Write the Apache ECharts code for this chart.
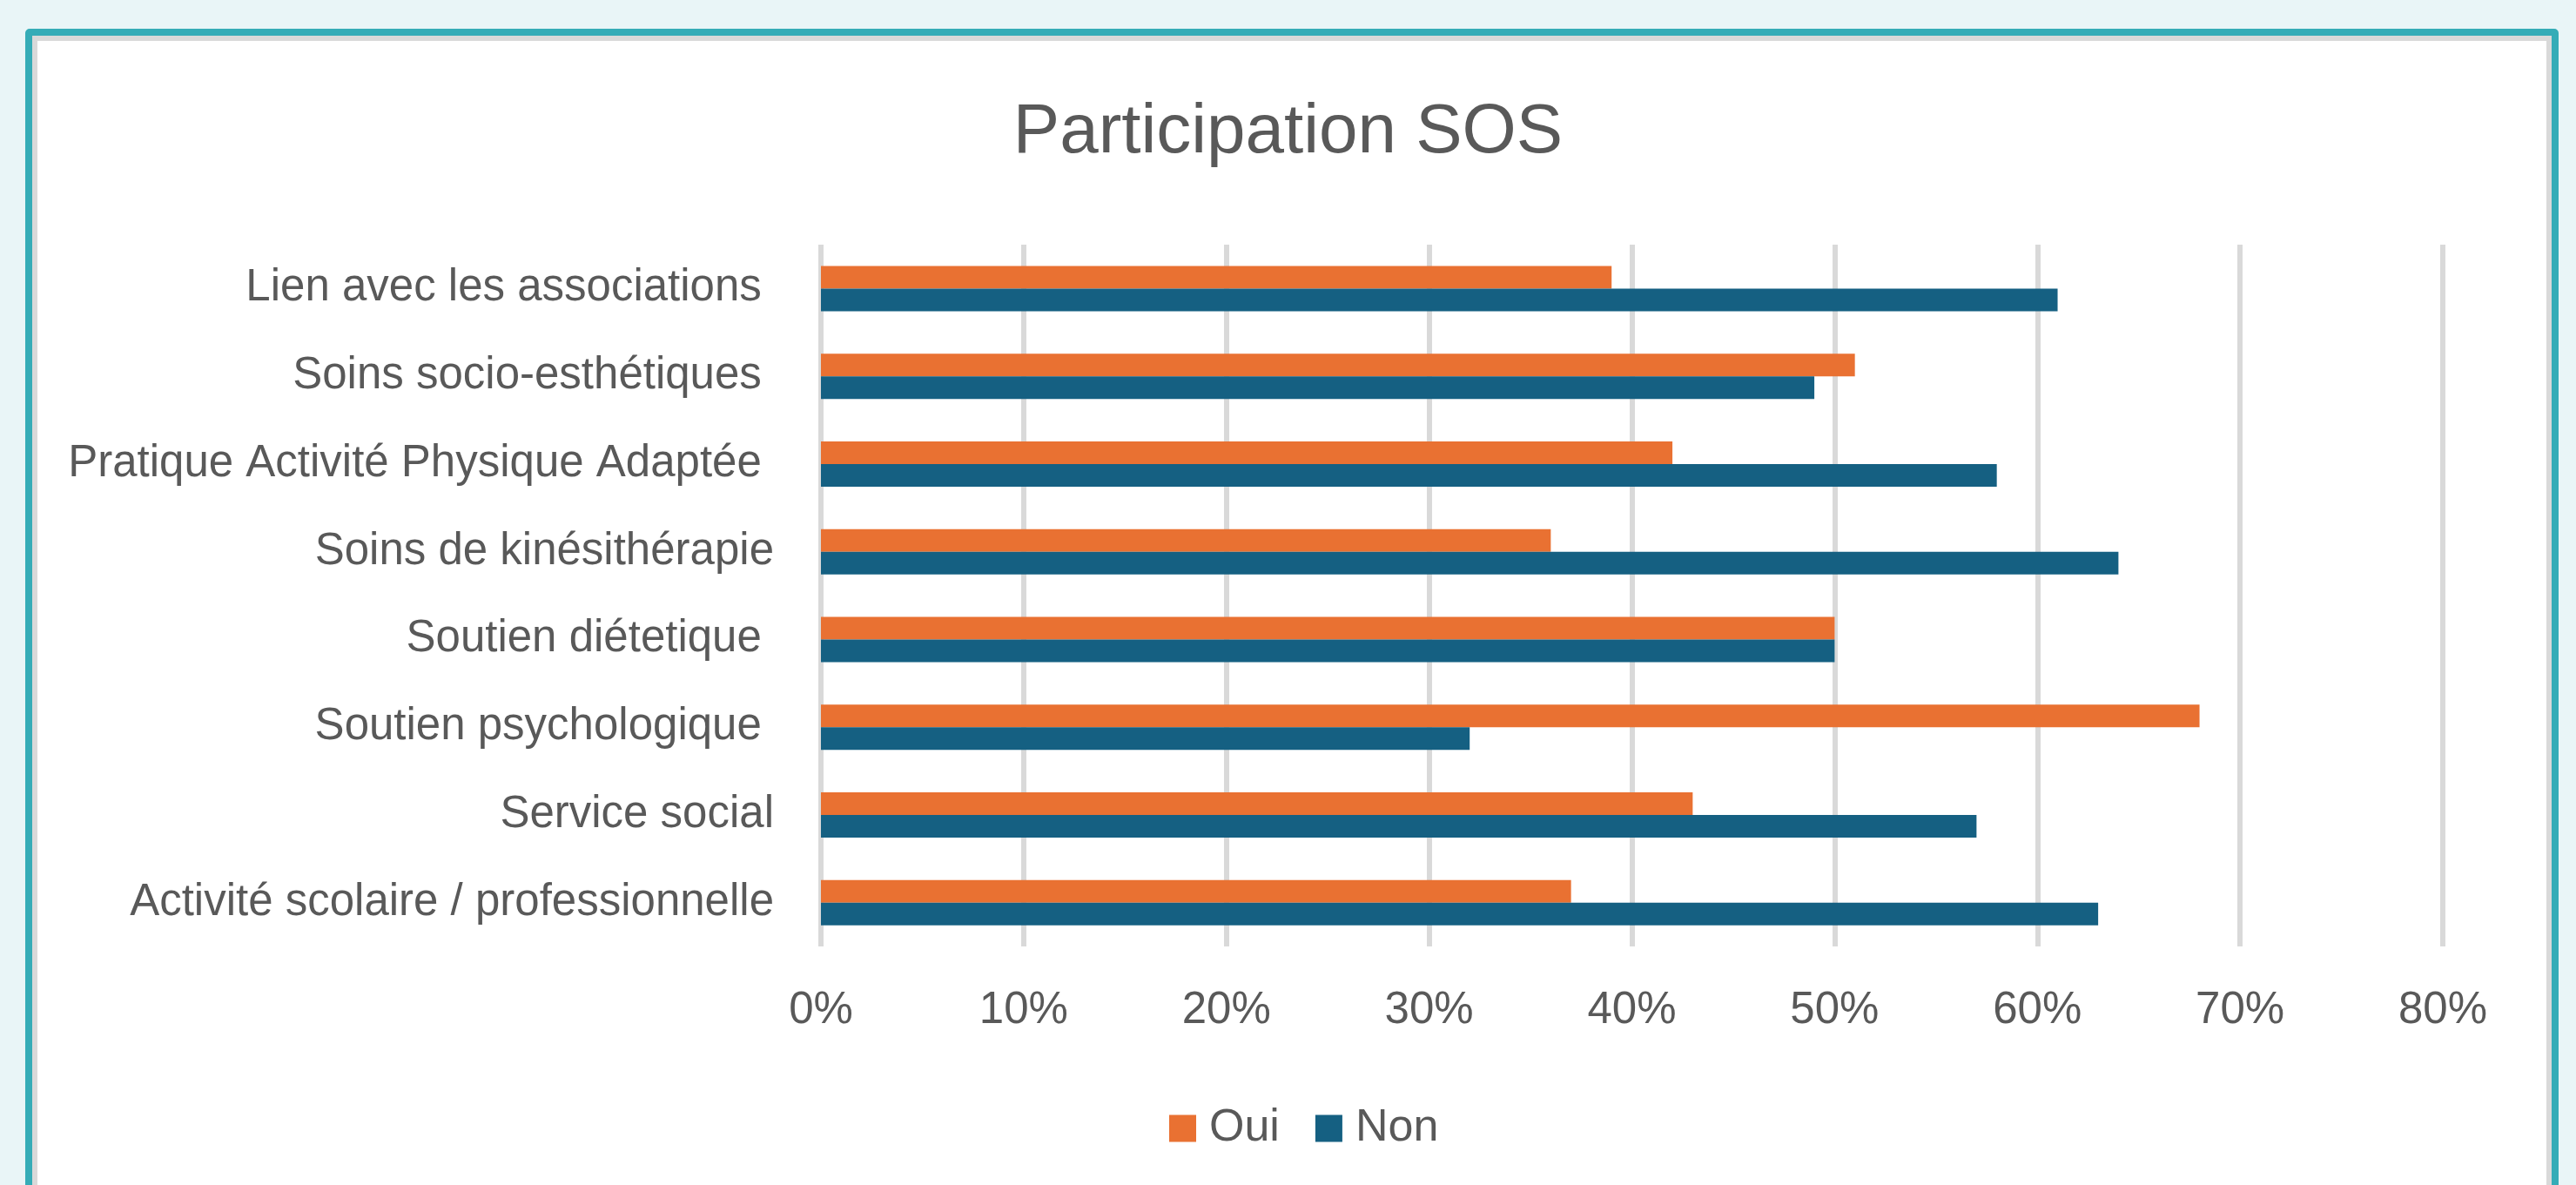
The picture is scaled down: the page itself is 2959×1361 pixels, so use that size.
<!DOCTYPE html>
<html>
<head>
<meta charset="utf-8">
<script src="https://cdn.jsdelivr.net/npm/echarts@6/dist/echarts.min.js"></script>
<style>
  html, body { margin: 0; padding: 0; width: 2959px; height: 1361px; overflow: hidden; background: #e9f5f7; }
  #frame {
    position: absolute; left: 29px; top: 33px; width: 2910px; height: 1400px;
    box-sizing: border-box; border: 8px solid #35acb7; border-radius: 5px; background: #d9d9d9;
  }
  #inner { position: absolute; left: 6px; top: 6px; right: 6px; bottom: 0; background: #ffffff; }
  #chart { position: absolute; left: 0; top: 0; width: 2959px; height: 1361px; }
</style>
</head>
<body>
<div id="frame"><div id="inner"></div></div>
<div id="chart"></div>
<script>
  const categories = [
    'Lien avec les associations ',
    'Soins socio-esthétiques ',
    'Pratique Activité Physique Adaptée ',
    'Soins de kinésithérapie',
    'Soutien diétetique ',
    'Soutien psychologique ',
    'Service social',
    'Activité scolaire / professionnelle',
  ];
  const ouiValues = [39, 51, 42, 36, 50, 68, 43, 37];
  const nonValues = [61, 49, 58, 64, 50, 32, 57, 63];
  const xTicks = [0, 10, 20, 30, 40, 50, 60, 70, 80];

  const textColor = '#595959';
  const fontFamily = '"Liberation Sans", Arial, sans-serif';

  const chart = echarts.init(document.getElementById('chart'), null, { renderer: 'canvas' });

  chart.setOption({
    animation: false,
    title: {
      text: 'Participation SOS',
      left: 'center',
      top: 108,
      textStyle: { color: textColor, fontFamily, fontSize: 80, fontWeight: 'normal' },
    },
    legend: {
      data: ['Oui', 'Non'],
      left: 1338,
      top: 1265,
      icon: 'rect',
      itemWidth: 31,
      itemHeight: 31,
      itemGap: 41,
      textStyle: { color: textColor, fontFamily, fontSize: 52, padding: [0, 0, 0, 10] },
    },
    grid: { left: 943, right: 153, top: 281, bottom: 274 },
    xAxis: {
      type: 'value',
      min: xTicks[0],
      max: xTicks[xTicks.length - 1],
      interval: 10,
      axisLine: { show: false },
      axisTick: { show: false },
      axisLabel: {
        margin: 48,
        color: textColor,
        fontFamily,
        fontSize: 51,
        formatter: '{value}%',
      },
      splitLine: { show: true, lineStyle: { color: '#d9d9d9', width: 6 } },
    },
    yAxis: {
      type: 'category',
      data: categories,
      inverse: true,
      axisLine: { show: false },
      axisTick: { show: false },
      axisLabel: { margin: 54, color: textColor, fontFamily, fontSize: 51 },
    },
    series: [
      {
        name: 'Oui',
        type: 'bar',
        data: ouiValues,
        barWidth: 26,
        barGap: '0%',
        itemStyle: { color: '#e97132' },
      },
      {
        name: 'Non',
        type: 'bar',
        data: nonValues,
        barWidth: 26,
        barGap: '0%',
        itemStyle: { color: '#156082' },
      },
    ],
  });
</script>
</body>
</html>
